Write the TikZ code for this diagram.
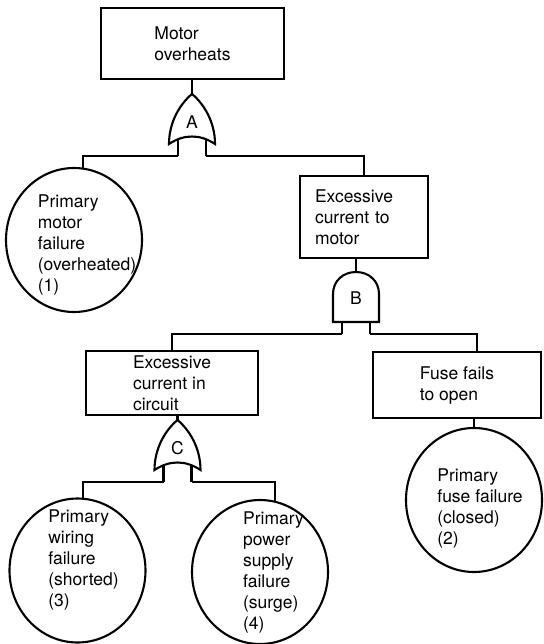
\documentclass[tikz,border=0pt]{standalone}
\usepackage{fontspec}
\setmainfont{TeX Gyre Heros}
\usepackage{tikz}
\usetikzlibrary{shapes.geometric}

\begin{document}
\begin{tikzpicture}[x=1pt,y=-1pt,line width=2.1pt]
  \tikzset{event/.style = {shape=rectangle,draw,align=left,inner sep=0pt,font=\fontsize{17.5pt}{21pt}\selectfont}}
  \tikzset{basic/.style = {shape=ellipse,draw,minimum width=136pt,minimum height=144pt,inner sep=0pt}}
  \tikzset{basictext/.style = {align=left,inner sep=0pt,font=\fontsize{17.5pt}{21pt}\selectfont}}
  \tikzset{pics/orgate/.style = {code = {
      \draw (-23,0) .. controls (-23,-22) and (-12,-40) .. (0,-50)
                    .. controls (12,-40) and (23,-22) .. (23,0)
                    .. controls (8,-10) and (-8,-10) .. (-23,0) -- cycle;
      \draw (-14,-4.8) -- (-14,12) coordinate (-l);
      \draw (14,-4.8) -- (14,12) coordinate (-r);
      \coordinate (-top) at (0,-50);
      \node[font=\fontsize{17.5pt}{21pt}\selectfont] (-lbl) at (0,-22) {#1};
  }}}
  \tikzset{pics/andgate/.style = {code = {
      \draw (-23,0) -- (-23,-28) .. controls (-23,-41) and (-13,-50) .. (0,-50)
                    .. controls (13,-50) and (23,-41) .. (23,-28) -- (23,0) -- cycle;
      \draw (-14,0) -- (-14,12) coordinate (-l);
      \draw (14,0) -- (14,12) coordinate (-r);
      \coordinate (-top) at (0,-50);
      \node[font=\fontsize{17.5pt}{21pt}\selectfont] (-lbl) at (0,-24) {#1};
  }}}

  \useasboundingbox (0,0) rectangle (543,644);

  \node[event,minimum width=183pt,minimum height=71pt] (M) at (192.5,43.5) {Motor\\overheats};
  \node[event,text width=98pt,inner xsep=15pt,minimum height=82pt] (X1) at (364,217) {Excessive\\current to\\motor};
  \node[event,minimum width=172pt,minimum height=64pt] (X2) at (172,383) {Excessive\\current in\\circuit};
  \node[event,minimum width=168pt,minimum height=66pt] (F) at (457,385) {Fuse fails\\to open};

  \pic (A) at (192,144) {orgate=A};
  \pic (B) at (356,322) {andgate=B};
  \pic (C) at (177.5,470) {orgate=C};

  \node[basic] (E1) at (74,240) {};
  \node[basictext] (T1) at (87,245) {Primary\\motor\\failure\\(overheated)\\(1)};
  \node[basic] (E2) at (474,500) {};
  \node[basictext] (T2) at (480,508) {Primary\\fuse failure\\(closed)\\(2)};
  \node[basic] (E3) at (77.5,570.5) {};
  \node[basictext] (T3) at (83.5,560) {Primary\\wiring\\failure\\(shorted)\\(3)};
  \node[basic] (E4) at (260,572) {};
  \node[basictext] (T4) at (273.5,572) {Primary\\power\\supply\\failure\\(surge)\\(4)};

  \draw (A-top) -- (A-top |- M.south);
  \draw (A-l) -| (E1.83);
  \draw (A-r) -| (X1.north);

  \draw (B-top) -- (B-top |- X1.south);
  \draw (B-l) -| (X2.north);
  \draw (B-r) -| ([xshift=20pt]F.north);
  \draw (E2.north) -- (E2.north |- F.south);

  \draw (C-top) -- (C-top |- X2.south);
  \draw (C-l) -| (E3.86);
  \draw (C-r) -| (E4.78);
\end{tikzpicture}
\end{document}
